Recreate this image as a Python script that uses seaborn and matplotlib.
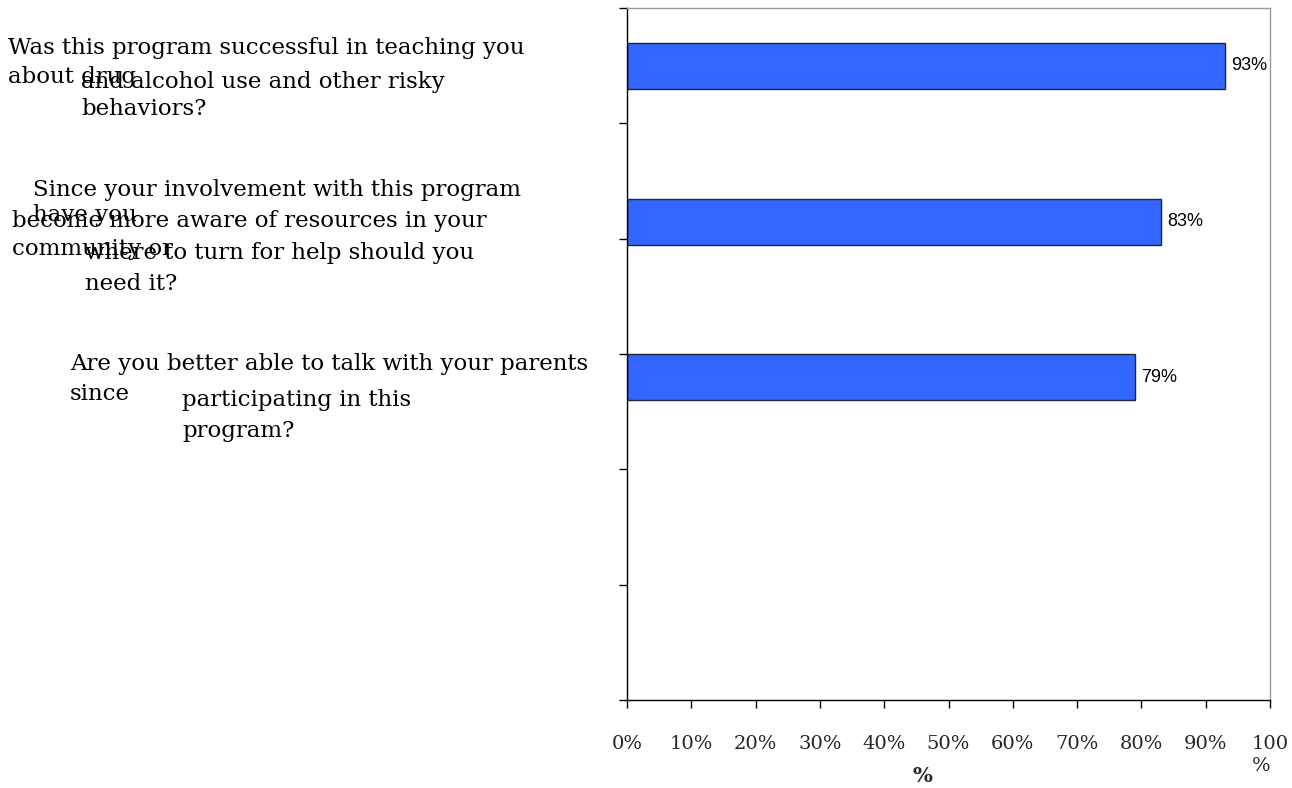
import matplotlib
matplotlib.use("Agg")
import matplotlib.pyplot as plt
import numpy as np
import pandas as pd
import seaborn as sns

# Survey questions and share of "yes" answers (percent)
questions = [
    "Was this program successful in teaching you about drug and alcohol use and other risky behaviors?",
    "Since your involvement with this program have you become more aware of resources in your community or where to turn for help should you need it?",
    "Are you better able to talk with your parents since participating in this program?",
]
values = [93, 83, 79]
x_ticks = [0, 10, 20, 30, 40, 50, 60, 70, 80, 90, 100]
x_tick_labels = ["0%", "10%", "20%", "30%", "40%", "50%", "60%", "70%", "80%", "90%", "100\n%"]
x_title = "%"

# Wrapped pieces of each question: (text, left px, baseline px)
label_lines = [
    [("Was this program successful in teaching you", 8, 54),
     ("about drug", 8, 83),
     ("and alcohol use and other risky", 81, 88),
     ("behaviors?", 81, 115)],
    [("Since your involvement with this program", 33, 196),
     ("have you", 33, 221),
     ("become more aware of resources in your", 12, 227),
     ("community or", 12, 255),
     ("where to turn for help should you", 85, 259),
     ("need it?", 85, 290)],
    [("Are you better able to talk with your parents", 70, 370),
     ("since", 70, 400),
     ("participating in this", 182, 406),
     ("program?", 182, 437)],
]

W, H, DPI = 1292, 788, 100
sns.set_theme(style="white")
plt.rcParams["font.family"] = ["DejaVu Serif"]

fig = plt.figure(figsize=(W / DPI, H / DPI), dpi=DPI)
ax_left, ax_right, ax_top, ax_bottom = 627, 1270, 8, 700
ax = fig.add_axes([ax_left / W, 1 - ax_bottom / H,
                   (ax_right - ax_left) / W, (ax_bottom - ax_top) / H])

df = pd.DataFrame({"question": questions, "value": values})
band = 155.5  # pixels between bar centres
first_centre = 66
bar_px = 46
sns.barplot(data=df, x="value", y="question", orient="h", ax=ax,
            color="#3366FF", saturation=1, width=bar_px / band,
            edgecolor="#22263a", linewidth=1.0)

y_top = -(first_centre - ax_top) / band
y_bot = (ax_bottom - first_centre) / band
ax.set_ylim(y_bot, y_top)
ax.set_xlim(0, 100)

# Value labels just past the bar ends
for i, v in enumerate(values):
    ax.text(v + 1.0, i, f"{v}%", va="center", ha="left",
            fontsize=13, family="Liberation Sans", color="black")

# Axis ticks
ax.set_yticks(np.linspace(y_top, y_bot, 7))
ax.set_yticklabels([])
ax.set_xticks(x_ticks)
ax.set_xticklabels(x_tick_labels, fontsize=14, multialignment="left",
                   linespacing=1.3)
ax.tick_params(axis="both", direction="out", length=6, width=1, color="black",
               left=True, bottom=True)
ax.tick_params(axis="x", pad=19)
ax.set_ylabel("")
ax.set_xlabel(x_title, fontsize=15, fontweight="bold")
ax.xaxis.set_label_coords((922 - ax_left) / (ax_right - ax_left), -0.095)

for side in ("left", "bottom"):
    ax.spines[side].set_color("black")
    ax.spines[side].set_linewidth(1)
for side in ("top", "right"):
    ax.spines[side].set_color("#9a9a9a")
    ax.spines[side].set_linewidth(1)
ax.grid(False)

# Question texts to the left of the plot
for lines in label_lines:
    for text, px, py in lines:
        fig.text(px / W, 1 - py / H, text, ha="left", va="baseline",
                 fontsize=16.5, color="black")

fig.savefig("out.png", dpi=DPI)
